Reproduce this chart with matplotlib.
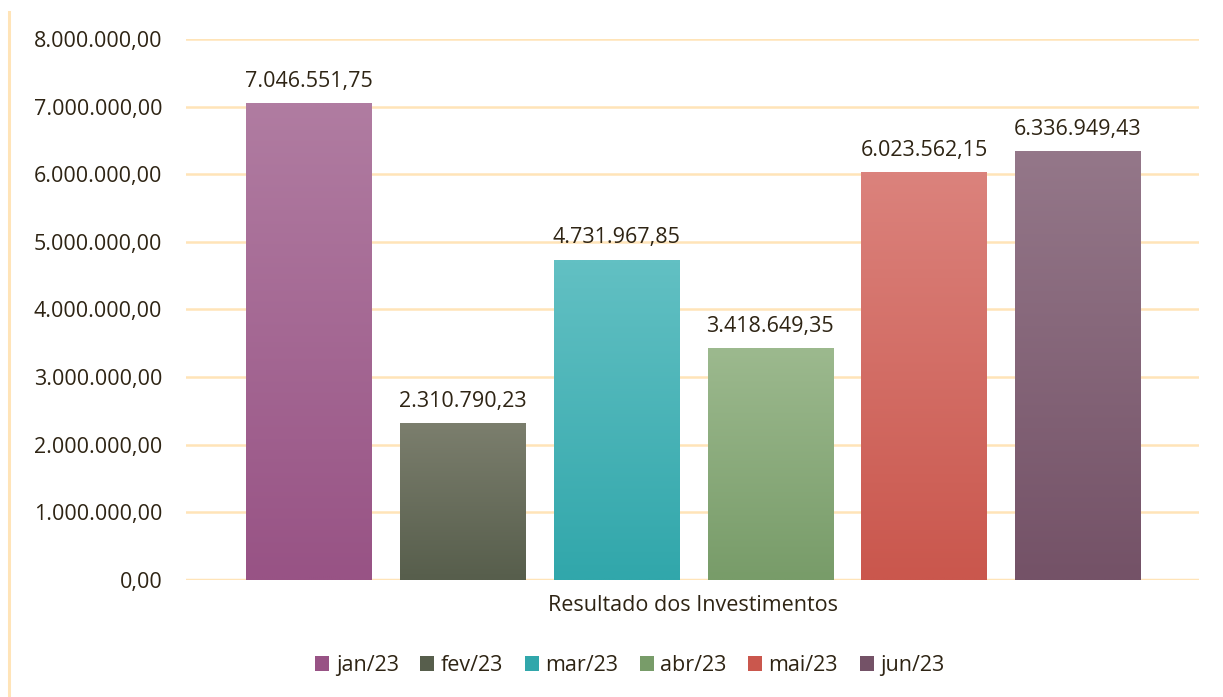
import numpy as np
import matplotlib
matplotlib.use("Agg")
import matplotlib.pyplot as plt
from matplotlib.colors import to_rgb
from matplotlib.lines import Line2D
from matplotlib.patches import Patch

plt.rcParams['font.family'] = ['Open Sans', 'DejaVu Sans']

MONTHS = ["jan/23", "fev/23", "mar/23", "abr/23", "mai/23", "jun/23"]
VALUES = [7046551.75, 2310790.23, 4731967.85, 3418649.35, 6023562.15, 6336949.43]
TOP_COLORS = ["#B07CA1", "#7B7E6D", "#62C0C3", "#9CB98E", "#DB827C", "#947789"]
BOT_COLORS = ["#985385", "#575E4C", "#31A7AB", "#789C69", "#CA574D", "#745267"]
CATEGORY = "Resultado dos Investimentos"

TEXT = "#2E2414"
GRID = "#FFE4B8"
FS = 15.5


def br_fmt(v):
    s = f"{v:,.2f}"
    return s.replace(",", "X").replace(".", ",").replace("X", ".")


fig = plt.figure(figsize=(12.23, 6.97), dpi=100)
ax = fig.add_axes([0.152, 0.168, 0.828, 0.776])

width = 0.815
x = np.arange(len(VALUES))
for i, (v, c0, c1) in enumerate(zip(VALUES, TOP_COLORS, BOT_COLORS)):
    grad = np.linspace(0, 1, 64)[:, None, None]
    img = np.array(to_rgb(c1)) * (1 - grad) + np.array(to_rgb(c0)) * grad
    ax.imshow(img, extent=(x[i] - width / 2, x[i] + width / 2, 0, v),
              origin="lower", aspect="auto", interpolation="bilinear", zorder=3)
    ax.text(x[i], v + 170000, br_fmt(v), ha="center", va="bottom",
            fontsize=FS, color=TEXT, zorder=4)

ax.set_xlim(-0.80, 5.785)
ax.set_ylim(0, 8000000)
ax.set_yticks(np.arange(0, 8000001, 1000000))
ax.set_yticklabels([br_fmt(t) for t in np.arange(0, 8000001, 1000000)],
                   fontsize=FS, color=TEXT)
ax.tick_params(axis="y", length=0, pad=17)
ax.set_xticks([2.5])
ax.set_xticklabels([CATEGORY], fontsize=FS, color=TEXT)
ax.tick_params(axis="x", length=0, pad=11)
ax.yaxis.grid(True, color=GRID, lw=1.8, zorder=0)
ax.set_axisbelow(True)
for s in ax.spines.values():
    s.set_visible(False)
ax.axhline(0, color=GRID, lw=2.5, zorder=2)

handles = [Patch(facecolor=c, edgecolor="none") for c in BOT_COLORS]
fig.legend(handles, MONTHS, loc="center", bbox_to_anchor=(0.515, 0.045),
           ncol=6, frameon=False, fontsize=FS, handlelength=0.65,
           handleheight=0.65, handletextpad=0.3, columnspacing=1.0,
           labelcolor=TEXT)

fig.add_artist(Line2D([0.0072, 0.0072], [0.0, 0.983], color=GRID, lw=2.2,
                      transform=fig.transFigure))

fig.savefig("out.png", dpi=100)
